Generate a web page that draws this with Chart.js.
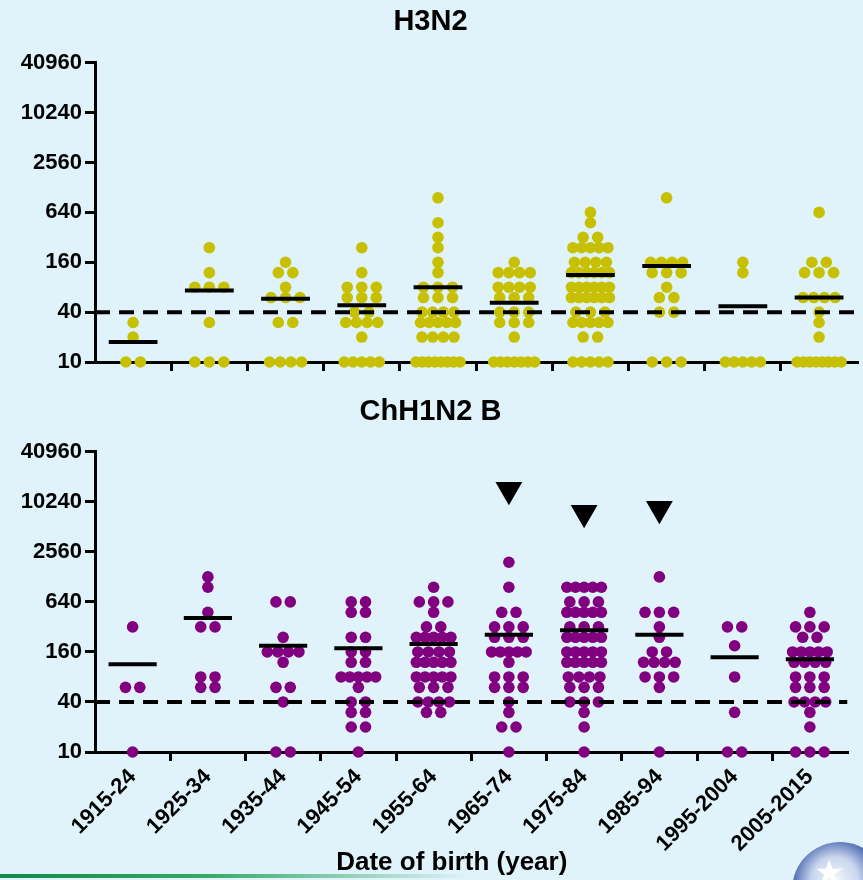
<!DOCTYPE html>
<html>
<head>
<meta charset="utf-8">
<title>H3N2 / ChH1N2 B titres by date of birth</title>
<script src="https://cdn.jsdelivr.net/npm/chart.js@4.4.1/dist/chart.umd.min.js"></script>
<style>
  html, body { margin: 0; padding: 0; background: #e0f3fb; }
  body { width: 863px; height: 880px; position: relative; overflow: hidden; }
  canvas { position: absolute; left: 0; }
  #topChart { top: 0; }
  #bottomChart { top: 390px; }
  #swoosh {
    position: absolute; left: 0; top: 874px; width: 470px; height: 4px;
    background: linear-gradient(to right, #11894a 0%, #3aa96a 45%, rgba(224,243,251,0) 100%);
  }
  #logo {
    position: absolute; left: 792px; top: 842px; width: 96px; height: 96px; border-radius: 50%;
    background: radial-gradient(circle at 45% 40%, #f4f7fb 0%, #c9d6ee 30%, #4a67b0 55%, #1e336f 75%, #e9eef7 78%, #9aa7c4 100%);
  }
  #logo span {
    position: absolute; left: 22px; top: 10px; color: #fff; font: 34px "DejaVu Sans", sans-serif;
  }
</style>
</head>
<body>
<canvas id="topChart" width="863" height="390"></canvas>
<canvas id="bottomChart" width="863" height="490"></canvas>
<div id="swoosh"></div>
<div id="logo"><span>★</span></div>

<script>
// Birth cohorts and axis ticks
const categories = ['1915-24', '1925-34', '1935-44', '1945-54', '1955-64',
                    '1965-74', '1975-84', '1985-94', '1995-2004', '2005-2015'];
const yTicks = [10, 40, 160, 640, 2560, 10240, 40960];
const cutoff = 40;

// H3N2 titres, one list per cohort
const h3n2Values = [
    [30, 20, 10, 10],
    [240, 120, 80, 80, 80, 30, 10, 10, 10],
    [160, 120, 120, 80, 60, 60, 60, 30, 30, 10, 10, 10, 10],
    [240, 120, 80, 80, 80, 60, 60, 60, 40, 40, 30, 30, 30, 30, 20, 10, 10, 10, 10, 10],
    [960, 480, 320, 240, 160, 120, 80, 80, 80, 60, 60, 60, 40, 40, 40, 40,
     30, 30, 30, 30, 30, 20, 20, 20, 20, 10, 10, 10, 10, 10, 10, 10, 10],
    [160, 120, 120, 120, 120, 80, 80, 80, 80, 60, 60, 60, 40, 40, 40,
     30, 30, 30, 20, 10, 10, 10, 10, 10, 10, 10],
    [640, 480, 320, 320, 240, 240, 240, 240, 240, 160, 160, 160, 160,
     120, 120, 120, 120, 120, 120, 80, 80, 80, 80, 80, 80, 60, 60, 60, 60, 60, 60,
     40, 40, 40, 30, 30, 30, 30, 30, 20, 20, 10, 10, 10, 10, 10],
    [960, 160, 160, 160, 160, 120, 120, 120, 80, 60, 60, 40, 40, 10, 10, 10],
    [160, 120, 10, 10, 10, 10, 10],
    [640, 160, 160, 120, 120, 120, 60, 60, 60, 60, 40, 30, 20,
     10, 10, 10, 10, 10, 10, 10, 10]
];
const h3n2Means = [17.4, 73, 58, 48.6, 80, 52, 112, 144, 47, 60];

// ChH1N2 B titres, one list per cohort
const chValues = [
    [320, 60, 60, 10],
    [1280, 960, 480, 320, 320, 80, 80, 60, 60],
    [640, 640, 240, 160, 160, 160, 160, 120, 60, 60, 40, 10, 10],
    [640, 640, 480, 480, 240, 240, 160, 160, 120, 120, 80, 80, 80, 80, 80,
     60, 40, 40, 30, 30, 20, 20, 10],
    [960, 640, 640, 640, 480, 320, 320, 240, 240, 240, 240, 240, 160, 160, 160, 160,
     120, 120, 120, 120, 120, 80, 80, 80, 80, 80, 60, 60, 60, 40, 40, 40, 40, 30, 30],
    [1920, 960, 480, 480, 320, 320, 320, 240, 240, 240, 160, 160, 160, 160, 160,
     120, 80, 80, 80, 60, 60, 60, 40, 30, 20, 20, 10],
    [960, 960, 960, 960, 960, 640, 640, 640, 480, 480, 480, 480, 480, 320, 320, 320,
     240, 240, 240, 240, 240, 160, 160, 160, 160, 160, 120, 120, 120, 120, 120,
     80, 80, 80, 80, 60, 60, 60, 40, 40, 40, 30, 20, 10],
    [1280, 480, 480, 480, 320, 240, 160, 160, 120, 120, 120, 120, 80, 80, 80, 60, 10],
    [320, 320, 190, 80, 30, 10, 10],
    [480, 320, 320, 320, 240, 240, 160, 160, 160, 160, 160, 120, 120, 120, 120,
     80, 80, 80, 60, 60, 60, 40, 40, 40, 40, 30, 20, 10, 10, 10]
];
const chMeans = [114, 411, 190, 177, 200, 258, 292, 258, 138, 131];

// Arrowheads above three cohorts
const arrowCats = [5, 6, 7];
const arrowY = [14300, 7550, 8430];

const dotYellow = '#c6c000';
const dotPurple = '#800080';
const fontFamily = '"Liberation Sans", Arial, sans-serif';

Chart.defaults.font.family = fontFamily;
Chart.defaults.color = '#000';

// Spread equal values side by side, like a column scatter
function swarm(groups) {
    const pts = [];
    groups.forEach((vals, i) => {
        const counts = {};
        vals.forEach(v => { counts[v] = (counts[v] || 0) + 1; });
        Object.keys(counts).forEach(k => {
            const n = counts[k];
            const span = n <= 3 ? (n - 1) * 14.5 : Math.min(29 + (n - 3) * 3, 44);
            for (let j = 0; j < n; j++) {
                const dx = n === 1 ? 0 : -span / 2 + j * span / (n - 1);
                pts.push({ x: i + dx / 76.2, y: Number(k) });
            }
        });
    });
    return pts;
}

const boundaries = categories.slice(1).map((c, i) => i + 0.5);

function makePanel(canvasId, title, values, means, color, withLabels, arrows) {
    const ctx = document.getElementById(canvasId).getContext('2d');

    const datasets = [{
        type: 'scatter',
        data: swarm(values),
        backgroundColor: color,
        borderWidth: 0,
        pointRadius: 5.8,
        clip: false,
        order: 3
    }, {
        type: 'line',
        data: [{ x: -0.5, y: cutoff }, { x: 9.5, y: cutoff }],
        borderColor: '#000',
        borderWidth: 4,
        borderDash: [15, 9],
        pointRadius: 0,
        order: 2
    }];

    means.forEach((m, i) => {
        datasets.push({
            type: 'line',
            data: [{ x: i - 0.32, y: m }, { x: i + 0.32, y: m }],
            borderColor: '#000',
            borderWidth: 4,
            pointRadius: 0,
            clip: false,
            order: 1
        });
    });

    if (arrows) {
        datasets.push({
            type: 'scatter',
            data: arrows.cats.map((c, k) => ({ x: c, y: arrows.y[k] })),
            pointStyle: 'triangle',
            rotation: 180,
            pointRadius: 13.5,
            backgroundColor: '#000',
            borderColor: '#000',
            borderWidth: 2,
            clip: false,
            order: 0
        });
    }

    const scales = {
        x: {
            type: 'linear',
            min: -0.5,
            max: 9.5,
            weight: 1,
            afterBuildTicks: s => { s.ticks = boundaries.map(v => ({ value: v })); },
            afterFit: s => { s.height = withLabels ? 10 : 28; },
            grid: { drawOnChartArea: false, tickLength: 9, lineWidth: 3, tickWidth: 3, tickColor: '#000' },
            border: { color: '#000', width: 3 },
            ticks: { callback: () => '', padding: 0 }
        },
        y: {
            type: 'logarithmic',
            min: 10,
            max: 40960,
            afterBuildTicks: s => { s.ticks = yTicks.map(v => ({ value: v })); },
            afterFit: s => { s.width = 95; },
            grid: { drawOnChartArea: false, tickLength: 10, tickWidth: 3, tickColor: '#000' },
            border: { color: '#000', width: 3 },
            ticks: {
                color: '#000',
                padding: 3,
                autoSkip: false,
                font: { size: 22, weight: 'bold' },
                callback: v => String(v)
            }
        }
    };

    if (withLabels) {
        scales.xl = {
            type: 'category',
            labels: categories,
            position: 'bottom',
            offset: true,
            weight: 2,
            afterFit: s => { s.height = 118; },
            grid: { display: false, drawTicks: false },
            border: { display: false },
            ticks: {
                color: '#000',
                autoSkip: false,
                minRotation: 45,
                maxRotation: 45,
                padding: 2,
                font: { size: 22, weight: 'bold' }
            },
            title: {
                display: true,
                text: 'Date of birth (year)\u2002\u2002\u2002',
                color: '#000',
                font: { size: 26, weight: 'bold' },
                padding: { top: 0, bottom: 2 }
            }
        };
    }

    return new Chart(ctx, {
        type: 'scatter',
        data: { datasets },
        options: {
            responsive: false,
            animation: false,
            layout: { padding: { left: 0, right: 2, top: 0, bottom: 0 } },
            plugins: {
                legend: { display: false },
                tooltip: { enabled: false },
                title: {
                    display: true,
                    text: title,
                    color: '#000',
                    font: { size: 29, weight: 'bold' },
                    padding: { top: 5, bottom: withLabels ? 22 : 23 }
                }
            },
            scales
        }
    });
}

makePanel('topChart', 'H3N2', h3n2Values, h3n2Means, dotYellow, false, null);
makePanel('bottomChart', 'ChH1N2 B', chValues, chMeans, dotPurple, true,
          { cats: arrowCats, y: arrowY });
</script>
</body>
</html>
